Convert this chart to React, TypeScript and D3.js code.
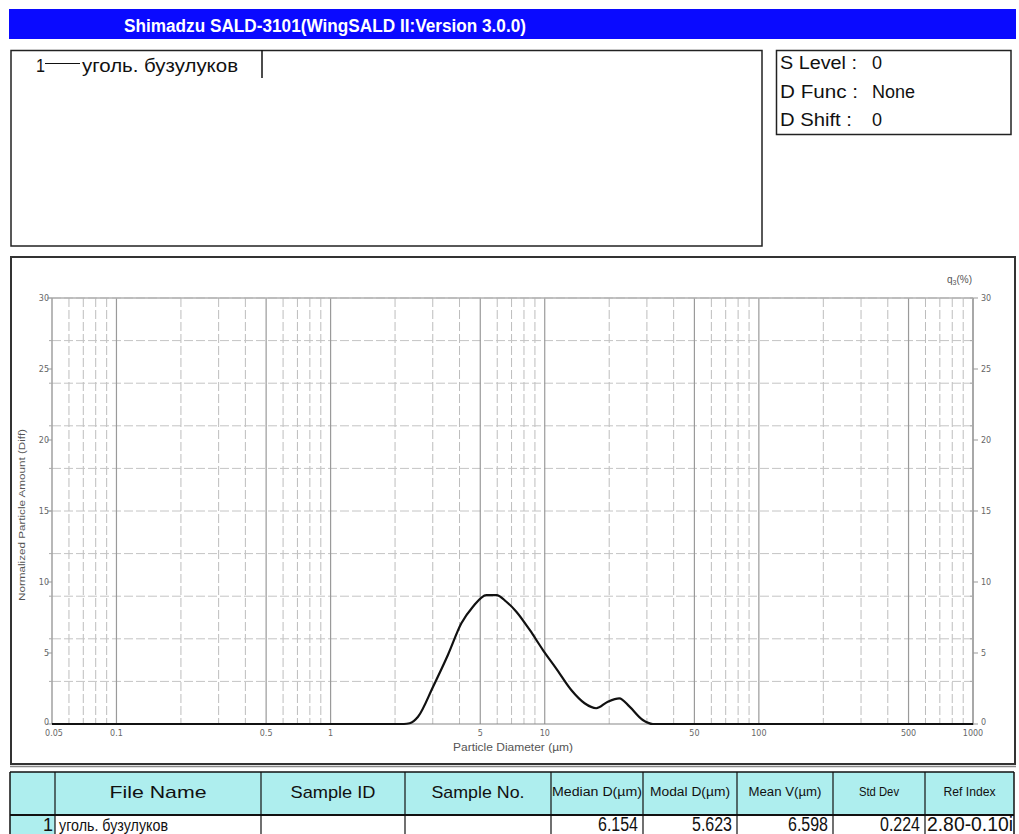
import React from "react";
import * as d3 from "d3";

const title = "Shimadzu SALD-3101(WingSALD II:Version 3.0.0)";
const legendIndex = "1";
const sampleName = "уголь. бузулуков";
const infoLabels = ["S Level :", "D Func :", "D Shift :"];
const infoValues = ["0", "None", "0"];

const diameters = [0.05, 2.2, 2.34, 2.56, 3.01, 3.53, 4.08, 4.62, 5.34, 5.95, 6.62, 7.37, 8.51, 9.81, 11.3, 13.3, 15.35, 17.4, 19.7, 22.3, 24.9, 28.7, 32, 1000];
const q3 = [0, 0, 0.05, 0.51, 2.63, 4.86, 7.09, 8.26, 9.08, 9.08, 8.61, 7.91, 6.62, 5.21, 3.92, 2.39, 1.46, 1.11, 1.57, 1.81, 1.22, 0.28, 0, 0];

const xTickValues = [0.05, 0.1, 0.5, 1, 5, 10, 50, 100, 500, 1000];
const xTickLabels = ["0.05", "0.1", "0.5", "1", "5", "10", "50", "100", "500", "1000"];
const yTickValues = [0, 5, 10, 15, 20, 25, 30];
const yGridValues = [3, 6, 9, 12, 15, 18, 21, 24, 27, 30];

const xTitle = "Particle Diameter (µm)";
const yTitle = "Normalized Particle Amount (Diff)";

const tableHeaders = ["", "File Name", "Sample ID", "Sample No.", "Median D(µm)", "Modal D(µm)", "Mean V(µm)", "Std Dev", "Ref Index"];
const tableRow = ["1", "уголь. бузулуков", "", "", "6.154", "5.623", "6.598", "0.224", "2.80-0.10i"];

const colEdges = [10, 55, 261, 405, 551, 643, 737, 833, 925, 1014];

const F = "'Liberation Sans', Arial, sans-serif";

export default function App() {
  const x = d3.scaleLog().domain([0.05, 1000]).range([52, 973]);
  const y = d3.scaleLinear().domain([0, 30]).range([724, 298]);
  const line = d3
    .line<number>()
    .x((_, i) => x(diameters[i]))
    .y((d) => y(d))
    .curve(d3.curveMonotoneX);
  const minorX = x.ticks().filter((t) => !xTickValues.some((v) => Math.abs(v - t) / v < 1e-6));
  const majorX = xTickValues.filter((v) => v > 0.05 && v < 1000);

  const hdrY0 = 772, hdrY1 = 815, rowY1 = 850;

  return (
    <svg width={1019} height={834} style={{ position: "absolute", left: 0, top: 0, background: "#fff" }} fontFamily={F}>
      {/* header bar */}
      <rect x={9} y={9} width={1007} height={30} fill="#0a0aff" />
      <text x={124} y={31.5} fill="#fff" fontWeight="bold" fontSize={18} textLength={402} lengthAdjust="spacingAndGlyphs">{title}</text>

      {/* legend box */}
      <rect x={11} y={50.5} width={751} height={195.5} fill="none" stroke="#222" strokeWidth={1.5} />
      <text x={36} y={72} fontSize={18} fill="#111" textLength={9} lengthAdjust="spacingAndGlyphs">{legendIndex}</text>
      <line x1={45} x2={80} y1={63.5} y2={63.5} stroke="#111" strokeWidth={1.2} />
      <text x={82} y={72} fontSize={18} fill="#111" textLength={156} lengthAdjust="spacingAndGlyphs">{sampleName}</text>
      <line x1={262} x2={262} y1={50} y2={78} stroke="#111" strokeWidth={1.5} />

      {/* info box */}
      <rect x={776.5} y={50.5} width={234.5} height={84} fill="none" stroke="#222" strokeWidth={1.5} />
      {infoLabels.map((l, i) => (
        <g key={l}>
          <text x={780} y={69 + i * 28.5} fontSize={18} fill="#111" textLength={[77, 78, 72][i]} lengthAdjust="spacingAndGlyphs">{l}</text>
          <text x={872} y={69 + i * 28.5} fontSize={18} fill="#111">{infoValues[i]}</text>
        </g>
      ))}

      {/* plot box */}
      <rect x={11} y={257} width={1004} height={507} fill="none" stroke="#333" strokeWidth={2} />

      {/* grid */}
      {minorX.map((t) => (
        <line key={"mx" + t} x1={x(t)} x2={x(t)} y1={298} y2={724} stroke="#bdbdbd" strokeWidth={1} strokeDasharray="9,3" />
      ))}
      {yGridValues.map((v) => (
        <line key={"gy" + v} x1={52} x2={973} y1={y(v)} y2={y(v)} stroke="#c4c4c4" strokeWidth={1} strokeDasharray="9,3" />
      ))}
      {majorX.map((t) => (
        <line key={"Mx" + t} x1={x(t)} x2={x(t)} y1={298} y2={724} stroke="#9a9a9a" strokeWidth={1.2} />
      ))}
      {/* axes frame */}
      <line x1={52} x2={973} y1={298} y2={298} stroke="#b0b0b0" strokeWidth={1.5} />
      <line x1={52} x2={52} y1={298} y2={724} stroke="#a0a0a0" strokeWidth={1.5} />
      <line x1={973} x2={973} y1={298} y2={725} stroke="#a8a8a8" strokeWidth={2} />
      <line x1={52} x2={973} y1={724} y2={724} stroke="#888" strokeWidth={1.2} />

      {/* y ticks */}
      {yTickValues.map((v) => (
        <g key={"yt" + v}>
          <line x1={47} x2={52} y1={y(v)} y2={y(v)} stroke="#999" />
          <line x1={973} x2={978} y1={y(v)} y2={y(v)} stroke="#999" />
          <text x={49} y={y(v) + (v === 0 ? 1 : 3)} textAnchor="end" fontSize={8} fill="#666" fontFamily="'DejaVu Sans', sans-serif">{v}</text>
          <text x={981} y={y(v) + (v === 0 ? 1 : 3)} fontSize={8} fill="#666" fontFamily="'DejaVu Sans', sans-serif">{v}</text>
        </g>
      ))}
      {yGridValues.map((v) => (
        <g key={"ym" + v}>
          <line x1={49} x2={52} y1={y(v)} y2={y(v)} stroke="#aaa" />
          <line x1={970} x2={973} y1={y(v)} y2={y(v)} stroke="#aaa" />
        </g>
      ))}
      {/* x tick labels */}
      {xTickValues.map((v, i) => (
        <text key={"xl" + v} x={x(v) + (i === 0 ? 2 : 0)} y={736} textAnchor="middle" fontSize={8} fill="#666" fontFamily="'DejaVu Sans', sans-serif">{xTickLabels[i]}</text>
      ))}

      <text x={513} y={751} textAnchor="middle" fontSize={10} fill="#555" textLength={120} lengthAdjust="spacingAndGlyphs">{xTitle}</text>
      <text transform="translate(25,515) rotate(-90)" textAnchor="middle" fontSize={9.5} fill="#555" textLength={172} lengthAdjust="spacingAndGlyphs">{yTitle}</text>
      <text x={972} y={283} textAnchor="end" fontSize={10} fill="#555">
        q<tspan fontSize={7} dy={2}>3</tspan><tspan dy={-2}>(%)</tspan>
      </text>

      {/* curve */}
      <path d={line(q3) || ""} fill="none" stroke="#111" strokeWidth={2.2} strokeLinejoin="round" />

      {/* table */}
      <line x1={10} x2={1016} y1={766.5} y2={766.5} stroke="#888" strokeWidth={1.5} />
      <rect x={10} y={hdrY0} width={1004} height={hdrY1 - hdrY0} fill="#aeeeee" />
      <rect x={10} y={hdrY1} width={45} height={rowY1 - hdrY1} fill="#aeeeee" />
      <line x1={10} x2={1014} y1={hdrY0} y2={hdrY0} stroke="#111" strokeWidth={1.5} />
      <line x1={10} x2={1014} y1={hdrY1} y2={hdrY1} stroke="#111" strokeWidth={2.2} />
      {colEdges.map((cx, i) => (
        <line key={"ce" + i} x1={cx} x2={cx} y1={hdrY0} y2={rowY1} stroke="#111" strokeWidth={i === 0 || i === colEdges.length - 1 ? 1.5 : 1.2} />
      ))}
      {tableHeaders.map((h, i) => {
        if (!h) return null;
        const big = i <= 3;
        const cx = (colEdges[i] + colEdges[i + 1]) / 2;
        return (
          <text key={"th" + i} x={cx} y={big ? 798 : 796} textAnchor="middle" fontSize={big ? 17 : 12} fill="#111"
            textLength={[0, 97, 85, 93, 90, 80, 73, 40, 52][i]} lengthAdjust="spacingAndGlyphs">{h}</text>
        );
      })}
      {tableRow.map((v, i) => {
        if (!v) return null;
        if (i === 0) return <text key="r0" x={53} y={831} textAnchor="end" fontSize={18} fill="#111">{v}</text>;
        if (i === 1) return <text key="r1" x={59} y={831} fontSize={17} fill="#111" textLength={109} lengthAdjust="spacingAndGlyphs">{v}</text>;
        if (i === 8) return <text key="r8" x={927} y={831} fontSize={20} fill="#111" textLength={86} lengthAdjust="spacingAndGlyphs">{v}</text>;
        return <text key={"r" + i} x={colEdges[i + 1] - 5} y={831} textAnchor="end" fontSize={20} fill="#111" textLength={40} lengthAdjust="spacingAndGlyphs">{v}</text>;
      })}
    </svg>
  );
}
